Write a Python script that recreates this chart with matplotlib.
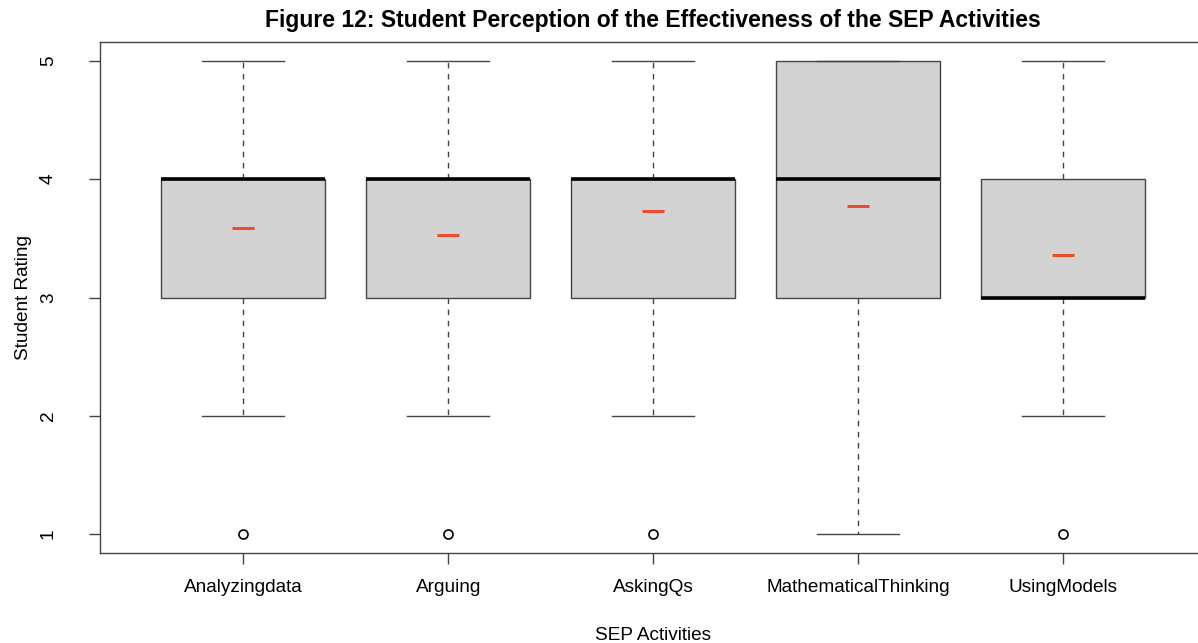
import matplotlib
matplotlib.use("Agg")
import matplotlib.pyplot as plt

categories = ["Analyzingdata", "Arguing", "AskingQs", "MathematicalThinking", "UsingModels"]
whisker_low = [2, 2, 2, 1, 2]
q1 = [3, 3, 3, 3, 3]
medians = [4, 4, 4, 4, 3]
q3 = [4, 4, 4, 5, 4]
whisker_high = [5, 5, 5, 5, 5]
outliers = [[1], [1], [1], [], [1]]
means = [3.59, 3.53, 3.73, 3.77, 3.36]
yticks = [1, 2, 3, 4, 5]

plt.rcParams['font.family'] = ['Liberation Sans', 'DejaVu Sans']

fig = plt.figure(figsize=(11.98, 6.43), dpi=100)
ax = fig.add_axes([100/1198, 1-553/643, (1206.5-100)/1198, (553-42)/643])

stats = []
for i, c in enumerate(categories):
    stats.append(dict(label=c, whislo=whisker_low[i], q1=q1[i], med=medians[i],
                      q3=q3[i], whishi=whisker_high[i], fliers=outliers[i]))

edge = '#444444'
positions = list(range(1, len(categories) + 1))
ax.bxp(stats, positions=positions, widths=0.8, patch_artist=True, showfliers=True,
       boxprops=dict(facecolor='#D3D3D3', edgecolor=edge, linewidth=1.0),
       medianprops=dict(color='black', linewidth=2.6, solid_capstyle='butt'),
       whiskerprops=dict(color=edge, linewidth=1.0, linestyle=(0, (4, 4))),
       capprops=dict(color=edge, linewidth=1.0),
       capwidths=0.4,
       flierprops=dict(marker='o', markerfacecolor='none', markeredgecolor='black',
                       markersize=6.5, markeredgewidth=1.2))

ax.plot(positions, means, linestyle='none', marker='_', markersize=16,
        markeredgewidth=2.2, color='#EE4B2B', zorder=5)

ax.set_xlim(0.3, 5.7)
ax.set_ylim(0.84, 5.16)
ax.set_xticks(positions)
ax.set_xticklabels(categories, fontsize=13.7)
ax.set_yticks(yticks)
ax.set_yticklabels([str(v) for v in yticks], fontsize=13.7, rotation=90, va='center')
ax.tick_params(axis='both', direction='out', length=8, width=1.0, color=edge)
ax.tick_params(axis='x', pad=11)
ax.tick_params(axis='y', pad=23)
for s in ax.spines.values():
    s.set_color(edge)
    s.set_linewidth(1.0)

ax.set_xlabel("SEP Activities", fontsize=13.7, labelpad=22)
ax.set_ylabel("Student Rating", fontsize=13.7, labelpad=6)
ax.set_title("Figure 12: Student Perception of the Effectiveness of the SEP Activities",
             fontsize=16.5, fontweight='bold', pad=11)

fig.savefig("out.png", dpi=100)
